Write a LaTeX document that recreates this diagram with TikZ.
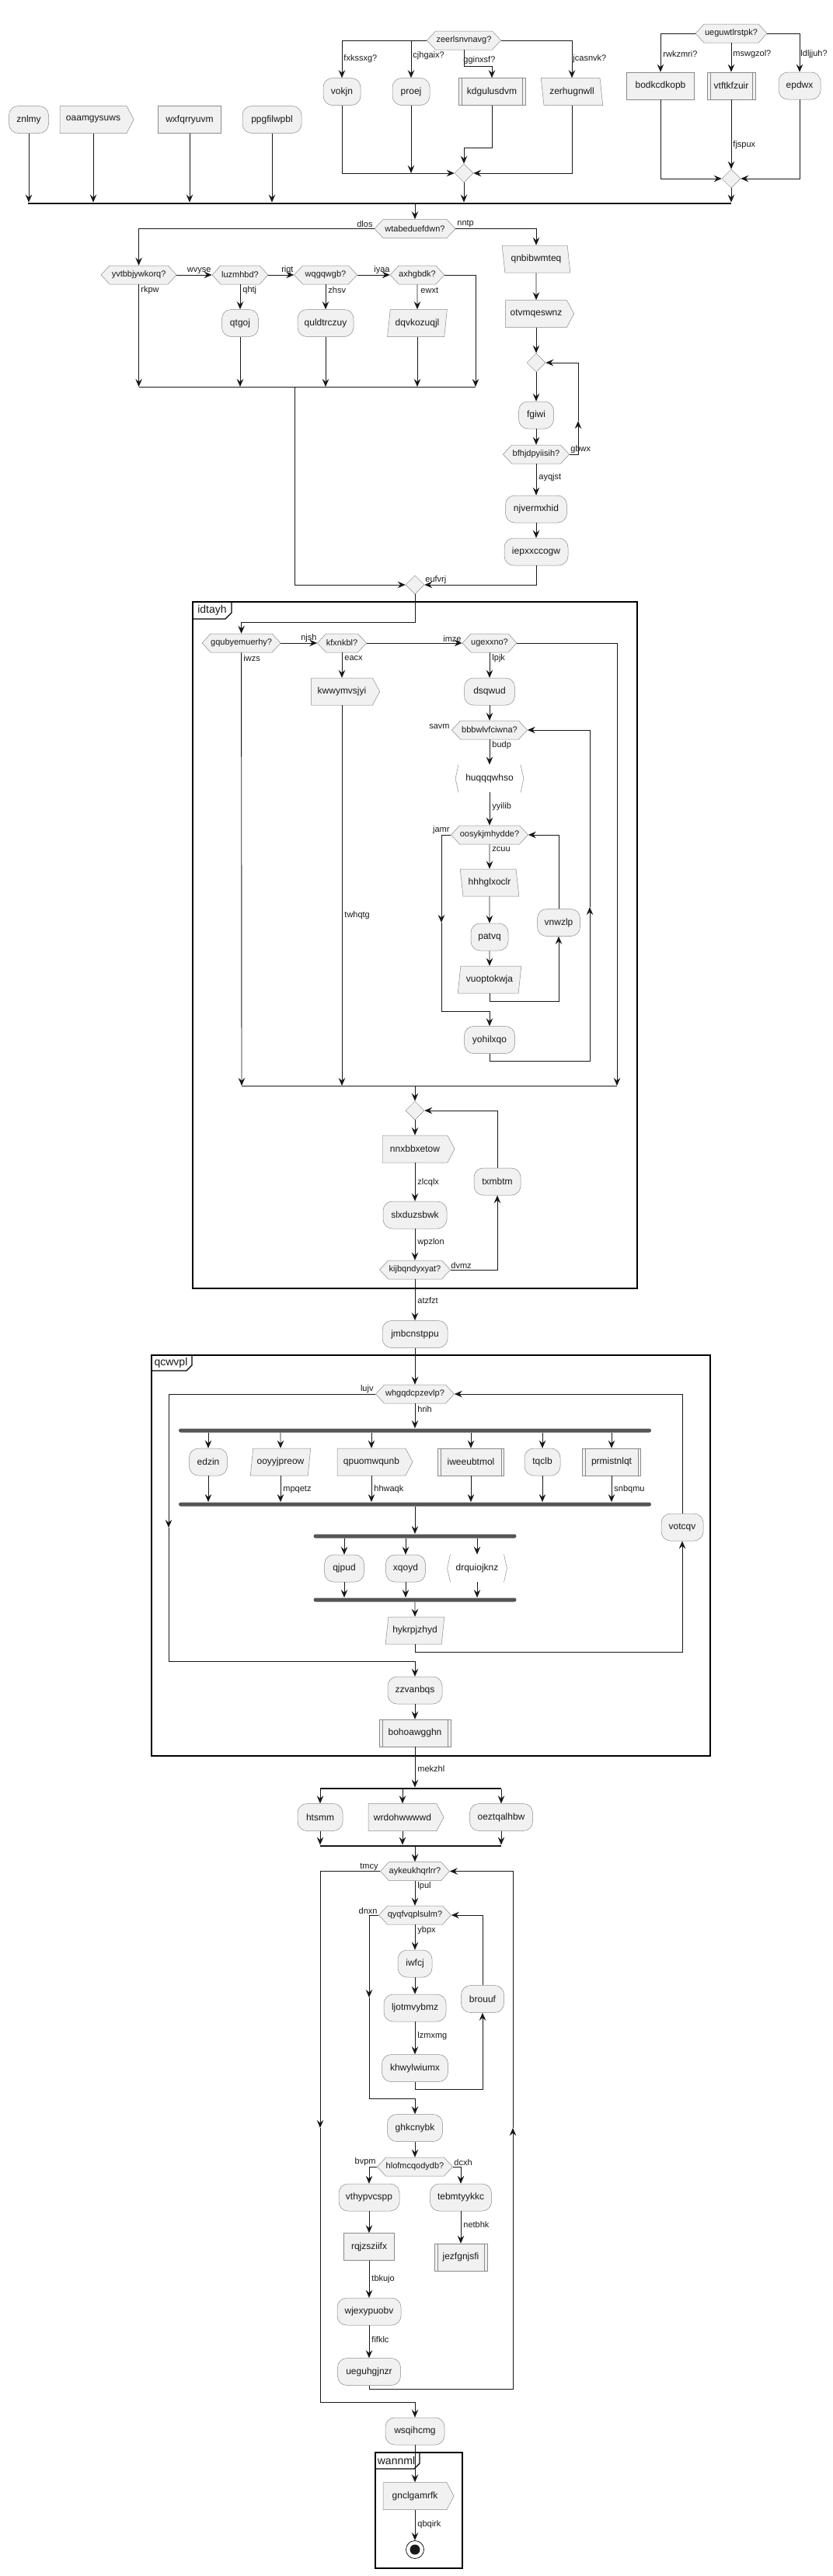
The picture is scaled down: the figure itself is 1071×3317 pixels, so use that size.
\documentclass[tikz,border=0pt]{standalone}
\usepackage{fontspec}
\setmainfont{Liberation Sans}
\usetikzlibrary{shapes, arrows.meta}
\definecolor{boxfill}{HTML}{F1F1F1}
\definecolor{boxline}{HTML}{8A8A8A}
\definecolor{flowline}{HTML}{181818}
\definecolor{barfill}{HTML}{555555}

\tikzset{
  act/.style={draw=boxline, line width=0.5pt, fill=boxfill, rounded corners=12pt, minimum height=35pt, inner sep=0pt, font=\fontsize{12}{14}\selectfont},
  boxnode/.style={act, sharp corners},
  sideline/.style={draw=boxline, line width=0.5pt},
  subnode/.style={boxnode, append after command={([xshift=4pt]\tikzlastnode.north west) edge[sideline] ([xshift=4pt]\tikzlastnode.south west) ([xshift=-4pt]\tikzlastnode.north east) edge[sideline] ([xshift=-4pt]\tikzlastnode.south east)}},
  parafwd/.style={boxnode, trapezium, trapezium left angle=75, trapezium right angle=105, trapezium stretches=true},
  paraback/.style={boxnode, trapezium, trapezium left angle=105, trapezium right angle=75, trapezium stretches=true},
  sendnode/.style={boxnode, signal, signal to=east, signal pointer angle=124},
  recvnode/.style={boxnode, signal, signal from=east, signal pointer angle=124},
  hexnode/.style={boxnode, signal, signal to=east and west, signal pointer angle=95, minimum height=24pt, font=\fontsize{11}{13}\selectfont},
  brnode/.style={rectangle, minimum height=35pt, inner sep=0pt, font=\fontsize{12}{14}\selectfont,
    append after command={([xshift=4pt]\tikzlastnode.north west) edge[sideline] (\tikzlastnode.west)
      (\tikzlastnode.west) edge[sideline] ([xshift=4pt]\tikzlastnode.south west)
      ([xshift=-4pt]\tikzlastnode.north east) edge[sideline] (\tikzlastnode.east)
      (\tikzlastnode.east) edge[sideline] ([xshift=-4pt]\tikzlastnode.south east)}},
  mergenode/.style={diamond, draw=boxline, line width=0.5pt, fill=boxfill, minimum width=24pt, minimum height=24pt, inner sep=0pt},
  forkbar/.style={rectangle, fill=barfill, rounded corners=2.5pt, minimum height=5pt, inner sep=0pt},
  splitbar/.style={rectangle, fill=flowline, minimum height=2pt, inner sep=0pt},
  endnode/.style={circle, draw=flowline, line width=0.8pt, minimum size=23pt, inner sep=0pt, path picture={\fill[flowline] (path picture bounding box.center) circle (6.5pt);}},
  lbl/.style={font=\fontsize{11}{13}\selectfont, inner sep=1pt},
  tabtext/.style={font=\fontsize{14}{16}\selectfont, inner sep=0pt},
  frame/.style={draw=black, line width=1.3pt}
}

\begin{document}
\begin{tikzpicture}[x=1pt, y=-1pt, color=flowline, line width=0.9pt, >={Stealth[length=10pt, width=8.5pt, inset=3.5pt]}]
\useasboundingbox (0,0) rectangle (1071,3317);

%Frames
\draw[frame] (248,775) rectangle (820,1659);
\draw[frame] (248,797) -- (290,797) -- (298,789) -- (298,775);
\node (idtayh) [tabtext] at (273,786) {idtayh};
\draw[frame] (195,1745) rectangle (914,2261);
\draw[frame] (195,1765) -- (240,1765) -- (247,1758) -- (247,1745);
\node (qcwvpl) [tabtext] at (220,1755) {qcwvpl};
\draw[frame] (483,3158) rectangle (595,3307);
\draw[frame] (483,3179) -- (533,3179) -- (540,3172) -- (540,3158);
\node (wannml) [tabtext] at (510,3168) {wannml};

%Top split
\node (znlmy) [act, minimum width=51pt] at (37,154) {znlmy};
\node (oaamgysuws) [sendnode, minimum width=95pt] at (120,154) {oaamgysuws};
\node (wxfqrryuvm) [boxnode, minimum width=81pt] at (244,154) {wxfqrryuvm};
\node (ppgfilwpbl) [act, minimum width=76pt] at (350,154) {ppgfilwpbl};

\node (zeerlsnvnavg) [hexnode, minimum width=95pt] at (597,52) {zeerlsnvnavg?};
\node (vokjn) [act, minimum width=48pt] at (440,118) {vokjn};
\node (proej) [act, minimum width=48pt] at (529,118) {proej};
\node (kdgulusdvm) [subnode, minimum width=86pt] at (633,118) {kdgulusdvm};
\node (zerhugnwll) [paraback, minimum width=80pt] at (736,118) {zerhugnwll};
\node (mrg1) [mergenode] at (597,223) {};

\node (ueguwtlrstpk) [hexnode, minimum width=92pt] at (941,43) {ueguwtlrstpk?};
\node (bodkcdkopb) [boxnode, minimum width=87pt] at (850,110.5) {bodkcdkopb};
\node (vtftkfzuir) [subnode, minimum width=62pt] at (941,110.5) {vtftkfzuir};
\node (epdwx) [act, minimum width=54pt] at (1029,110.5) {epdwx};
\node (mrg2) [mergenode] at (941,230) {};

\node (splt1) [splitbar, minimum width=905pt] at (488.5,262) {};

\draw[->] (zeerlsnvnavg.west) -| (vokjn.north);
\draw[->] (proej.north |- zeerlsnvnavg.west) -- (proej.north);
\draw[->] (zeerlsnvnavg.south) -- ++(0,21) -| (kdgulusdvm.north);
\draw[->] (zeerlsnvnavg.east) -| (zerhugnwll.north);
\draw[->] (vokjn.south) |- (mrg1.west);
\draw[->] (proej.south) -- (proej.south |- mrg1.west);
\draw[->] (kdgulusdvm.south) -- ++(0,55) -| (mrg1.north);
\draw[->] (zerhugnwll.south) |- (mrg1.east);
\draw[->] (mrg1.south) -- (mrg1.south |- splt1.north);

\draw[->] (ueguwtlrstpk.west) -| (bodkcdkopb.north);
\draw[->] (ueguwtlrstpk.south) -- (vtftkfzuir.north);
\draw[->] (ueguwtlrstpk.east) -| (epdwx.north);
\draw[->] (bodkcdkopb.south) |- (mrg2.west);
\draw[->] (vtftkfzuir.south) -- (mrg2.north);
\draw[->] (epdwx.south) |- (mrg2.east);
\draw[->] (mrg2.south) -- (mrg2.south |- splt1.north);

\draw[->] (znlmy.south) -- (znlmy.south |- splt1.north);
\draw[->] (oaamgysuws.south) -- (oaamgysuws.south |- splt1.north);
\draw[->] (wxfqrryuvm.south) -- (wxfqrryuvm.south |- splt1.north);
\draw[->] (ppgfilwpbl.south) -- (ppgfilwpbl.south |- splt1.north);

\node (lfxkssxg) [lbl, anchor=west] at (441,76) {fxkssxg?};
\node (lcjhgaix) [lbl, anchor=west] at (530,72) {cjhgaix?};
\node (lgginxsf) [lbl, anchor=west] at (595,78) {gginxsf?};
\node (ljcasnvk) [lbl, anchor=west] at (736,76) {jcasnvk?};
\node (lrwkzmri) [lbl, anchor=west] at (852,70) {rwkzmri?};
\node (lmswgzol) [lbl, anchor=west] at (942,70) {mswgzol?};
\node (lldljjuh) [lbl, anchor=west] at (1029,70) {ldljjuh?};
\node (lfjspux) [lbl, anchor=west] at (942,187) {fjspux};

%Second decision
\node (wtabeduefdwn) [hexnode, minimum width=104pt] at (534,294.5) {wtabeduefdwn?};
\node (yvtbbjywkorq) [hexnode, minimum width=97pt] at (178.6,354) {yvtbbjywkorq?};
\node (luzmhbd) [hexnode, minimum width=72pt] at (309,354) {luzmhbd?};
\node (wqgqwgb) [hexnode, minimum width=81pt] at (419,354) {wqgqwgb?};
\node (axhgbdk) [hexnode, minimum width=69pt] at (537,354) {axhgbdk?};
\node (qtgoj) [act, minimum width=47pt] at (309,416) {qtgoj};
\node (quldtrczuy) [act, minimum width=72pt] at (419,416) {quldtrczuy};
\node (dqvkozuqjl) [parafwd, minimum width=77pt] at (537,416) {dqvkozuqjl};
\coordinate (mg1l) at (178.6,498);
\coordinate (mg1r) at (612,498);
\coordinate (mg1m) at (379,498);

\node (qnbibwmteq) [paraback, minimum width=88pt] at (690,333.5) {qnbibwmteq};
\node (otvmqeswnz) [sendnode, minimum width=88pt] at (690,404) {otvmqeswnz};
\node (mrg4) [mergenode] at (690,467) {};
\node (fgiwi) [act, minimum width=45pt] at (690,534.5) {fgiwi};
\node (bfhjdpyiisih) [hexnode, minimum width=85pt] at (690,585) {bfhjdpyiisih?};
\node (njvermxhid) [act, minimum width=79pt] at (690,655.5) {njvermxhid};
\node (iepxxccogw) [act, minimum width=82pt] at (690,710.5) {iepxxccogw};
\coordinate (bk1) at (744,542);
\node (mrg3) [mergenode] at (534,753) {};

\draw[->] (splt1.south -| wtabeduefdwn) -- (wtabeduefdwn.north);
\draw[->] (wtabeduefdwn.west) -| (yvtbbjywkorq.north);
\draw[->] (wtabeduefdwn.east) -| (qnbibwmteq.north);
\draw[->] (yvtbbjywkorq.east) -- (luzmhbd.west);
\draw[->] (luzmhbd.east) -- (wqgqwgb.west);
\draw[->] (wqgqwgb.east) -- (axhgbdk.west);
\draw[->] (axhgbdk.east) -| (mg1r);
\draw[->] (yvtbbjywkorq.south) -- (mg1l);
\draw[->] (luzmhbd.south) -- (qtgoj.north);
\draw[->] (wqgqwgb.south) -- (quldtrczuy.north);
\draw[->] (axhgbdk.south) -- (dqvkozuqjl.north);
\draw[->] (qtgoj.south) -- (qtgoj.south |- mg1l);
\draw[->] (quldtrczuy.south) -- (quldtrczuy.south |- mg1l);
\draw[->] (dqvkozuqjl.south) -- (dqvkozuqjl.south |- mg1l);
\draw (mg1l) -- (mg1r);
\draw[->] (mg1m) |- (mrg3.west);

\draw[->] (qnbibwmteq.south) -- (otvmqeswnz.north);
\draw[->] (otvmqeswnz.south) -- (mrg4.north);
\draw[->] (mrg4.south) -- (fgiwi.north);
\draw[->] (fgiwi.south) -- (bfhjdpyiisih.north);
\draw[->] (bfhjdpyiisih.east) -| (bk1);
\draw[->] (bk1) |- (mrg4.east);
\draw[->] (bfhjdpyiisih.south) -- (njvermxhid.north);
\draw[->] (njvermxhid.south) -- (iepxxccogw.north);
\draw[->] (iepxxccogw.south) |- (mrg3.east);

\node (ldlos) [lbl, anchor=south east] at (481,294) {dlos};
\node (lnntp) [lbl, anchor=south west] at (587,294) {nntp};
\node (lwvyse) [lbl, anchor=south east] at (273,354) {wvyse};
\node (lriqt) [lbl, anchor=south east] at (379,354) {riqt};
\node (liyaa) [lbl, anchor=south east] at (503,354) {iyaa};
\node (lrkpw) [lbl, anchor=west] at (180,374) {rkpw};
\node (lqhtj) [lbl, anchor=west] at (311,374) {qhtj};
\node (lzhsv) [lbl, anchor=west] at (421,374) {zhsv};
\node (lewxt) [lbl, anchor=west] at (540,374) {ewxt};
\node (lgbwx) [lbl, anchor=south west] at (733,585) {gbwx};
\node (layqjst) [lbl, anchor=west] at (692,615) {ayqjst};
\node (leufvrj) [lbl, anchor=south west] at (546,753) {eufvrj};

%idtayh
\node (gqubyemuerhy) [hexnode, minimum width=101pt] at (310.6,828) {gqubyemuerhy?};
\node (kfxnkbl) [hexnode, minimum width=63pt] at (440,828) {kfxnkbl?};
\node (ugexxno) [hexnode, minimum width=70pt] at (630,828) {ugexxno?};
\node (kwwymvsjyi) [recvnode, minimum width=88pt] at (440,890.5) {kwwymvsjyi};
\node (dsqwud) [act, minimum width=65pt] at (630,890.5) {dsqwud};
\node (bbbwlvfciwna) [hexnode, minimum width=97pt] at (630,940) {bbbwlvfciwna?};
\node (huqqqwhso) [brnode, minimum width=87pt] at (630,1002.5) {huqqqwhso};
\node (oosykjmhydde) [hexnode, minimum width=99pt] at (630,1075) {oosykjmhydde?};
\node (hhhglxoclr) [paraback, minimum width=76pt] at (630,1136.5) {hhhglxoclr};
\node (patvq) [act, minimum width=48pt] at (630,1206.5) {patvq};
\node (vuoptokwja) [parafwd, minimum width=82pt] at (630,1261.5) {vuoptokwja};
\node (vnwzlp) [act, minimum width=55pt] at (719,1188) {vnwzlp};
\node (yohilxqo) [act, minimum width=65pt] at (630,1339) {yohilxqo};
\coordinate (mg2l) at (311,1398);
\coordinate (mg2r) at (794,1398);
\coordinate (mg2m) at (534,1398);
\coordinate (bk2) at (568,1188);
\coordinate (bk3) at (759,1168);

\node (mrg5) [mergenode] at (534,1430) {};
\node (nnxbbxetow) [recvnode, minimum width=93pt] at (534,1479.5) {nnxbbxetow};
\node (slxduzsbwk) [act, minimum width=82pt] at (534,1564.5) {slxduzsbwk};
\node (kijbqndyxyat) [hexnode, minimum width=91pt] at (534,1635) {kijbqndyxyat?};
\node (txmbtm) [act, minimum width=60pt] at (640,1521.5) {txmbtm};
\node (jmbcnstppu) [act, minimum width=84pt] at (534,1718) {jmbcnstppu};

\draw[->] (mrg3.south) -- ++(0,36) -| (gqubyemuerhy.north);
\draw[->] (gqubyemuerhy.east) -- (kfxnkbl.west);
\draw[->] (kfxnkbl.east) -- (ugexxno.west);
\draw[->] (ugexxno.east) -| (mg2r);
\draw[->] (gqubyemuerhy.south) -- (mg2l);
\draw[->] (kfxnkbl.south) -- (kwwymvsjyi.north);
\draw[->] (kwwymvsjyi.south) -- (kwwymvsjyi.south |- mg2l);
\draw[->] (ugexxno.south) -- (dsqwud.north);
\draw[->] (dsqwud.south) -- (bbbwlvfciwna.north);
\draw[->] (bbbwlvfciwna.south) -- (huqqqwhso.north);
\draw[->] (huqqqwhso.south) -- (oosykjmhydde.north);
\draw[->] (oosykjmhydde.south) -- (hhhglxoclr.north);
\draw[->] (hhhglxoclr.south) -- (patvq.north);
\draw[->] (patvq.south) -- (vuoptokwja.north);
\draw[->] (vuoptokwja.south) -- ++(0,10) -| (vnwzlp.south);
\draw[->] (vnwzlp.north) |- (oosykjmhydde.east);
\draw[->] (oosykjmhydde.west) -| (bk2);
\draw[->] (bk2) -- ++(0,114) -| (yohilxqo.north);
\draw[->] (yohilxqo.south) -- ++(0,10) -| (bk3);
\draw[->] (bk3) |- (bbbwlvfciwna.east);
\draw (mg2l) -- (mg2r);
\draw[->] (mg2m) -- (mrg5.north);

\draw[->] (mrg5.south) -- (nnxbbxetow.north);
\draw[->] (nnxbbxetow.south) -- (slxduzsbwk.north);
\draw[->] (slxduzsbwk.south) -- (kijbqndyxyat.north);
\draw[->] (kijbqndyxyat.east) -| (txmbtm.south);
\draw[->] (txmbtm.north) |- (mrg5.east);
\draw[->] (kijbqndyxyat.south) -- (jmbcnstppu.north);

\node (lnjsh) [lbl, anchor=south east] at (409,828) {njsh};
\node (limze) [lbl, anchor=south east] at (595,828) {imze};
\node (liwzs) [lbl, anchor=west] at (312,848) {iwzs};
\node (leacx) [lbl, anchor=west] at (442,848) {eacx};
\node (llpjk) [lbl, anchor=west] at (632,848) {lpjk};
\node (lsavm) [lbl, anchor=south east] at (580,940) {savm};
\node (lbudp) [lbl, anchor=west] at (632,960) {budp};
\node (lyyilib) [lbl, anchor=west] at (632,1039) {yyilib};
\node (ljamr) [lbl, anchor=south east] at (580,1075) {jamr};
\node (lzcuu) [lbl, anchor=west] at (632,1094) {zcuu};
\node (ltwhqtg) [lbl, anchor=west] at (442,1179) {twhqtg};
\node (lzlcqlx) [lbl, anchor=west] at (536,1523) {zlcqlx};
\node (lwpzlon) [lbl, anchor=west] at (536,1600) {wpzlon};
\node (ldvmz) [lbl, anchor=south west] at (579,1635) {dvmz};
\node (latzfzt) [lbl, anchor=west] at (536,1675) {atzfzt};

%qcwvpl
\node (whgqdcpzevlp) [hexnode, minimum width=101pt] at (534,1795) {whgqdcpzevlp?};
\node (fork1) [forkbar, minimum width=608pt] at (534,1842) {};
\node (edzin) [act, minimum width=49pt] at (268,1882.5) {edzin};
\node (ooyyjpreow) [parafwd, minimum width=78pt] at (361,1882.5) {ooyyjpreow};
\node (qpuomwqunb) [sendnode, minimum width=97pt] at (478,1882.5) {qpuomwqunb};
\node (iweeubtmol) [subnode, minimum width=85pt] at (606,1882.5) {iweeubtmol};
\node (tqclb) [act, minimum width=46pt] at (698,1882.5) {tqclb};
\node (prmistnlqt) [subnode, minimum width=75pt] at (787,1882.5) {prmistnlqt};
\node (fork2) [forkbar, minimum width=608pt] at (534,1937) {};
\node (fork3) [forkbar, minimum width=261pt] at (534,1978) {};
\node (qjpud) [act, minimum width=51pt] at (443,2019.5) {qjpud};
\node (xqoyd) [act, minimum width=51pt] at (522,2019.5) {xqoyd};
\node (drquiojknz) [brnode, minimum width=76pt] at (614,2019.5) {drquiojknz};
\node (fork4) [forkbar, minimum width=261pt] at (534,2060) {};
\node (hykrpjzhyd) [parafwd, minimum width=76pt] at (534,2099.5) {hykrpjzhyd};
\node (votcqv) [act, minimum width=54pt] at (878,1966.5) {votcqv};
\node (zzvanbqs) [act, minimum width=70pt] at (534,2176.5) {zzvanbqs};
\node (bohoawgghn) [subnode, minimum width=92pt] at (534,2231.5) {bohoawgghn};
\coordinate (bk4) at (217,1967);

\draw[->] (jmbcnstppu.south) -- (whgqdcpzevlp.north);
\draw[->] (whgqdcpzevlp.south) -- (fork1.north);
\draw[->] (fork1.south -| edzin) -- (edzin.north);
\draw[->] (fork1.south -| ooyyjpreow) -- (ooyyjpreow.north);
\draw[->] (fork1.south -| qpuomwqunb) -- (qpuomwqunb.north);
\draw[->] (fork1.south -| iweeubtmol) -- (iweeubtmol.north);
\draw[->] (fork1.south -| tqclb) -- (tqclb.north);
\draw[->] (fork1.south -| prmistnlqt) -- (prmistnlqt.north);
\draw[->] (edzin.south) -- (edzin.south |- fork2.north);
\draw[->] (ooyyjpreow.south) -- (ooyyjpreow.south |- fork2.north);
\draw[->] (qpuomwqunb.south) -- (qpuomwqunb.south |- fork2.north);
\draw[->] (iweeubtmol.south) -- (iweeubtmol.south |- fork2.north);
\draw[->] (tqclb.south) -- (tqclb.south |- fork2.north);
\draw[->] (prmistnlqt.south) -- (prmistnlqt.south |- fork2.north);
\draw[->] (fork2.south) -- (fork3.north);
\draw[->] (fork3.south -| qjpud) -- (qjpud.north);
\draw[->] (fork3.south -| xqoyd) -- (xqoyd.north);
\draw[->] (fork3.south -| drquiojknz) -- (drquiojknz.north);
\draw[->] (qjpud.south) -- (qjpud.south |- fork4.north);
\draw[->] (xqoyd.south) -- (xqoyd.south |- fork4.north);
\draw[->] (drquiojknz.south) -- (drquiojknz.south |- fork4.north);
\draw[->] (fork4.south) -- (hykrpjzhyd.north);
\draw[->] (hykrpjzhyd.south) -- ++(0,10) -| (votcqv.south);
\draw[->] (votcqv.north) |- (whgqdcpzevlp.east);
\draw[->] (whgqdcpzevlp.west) -| (bk4);
\draw[->] (bk4) -- ++(0,172) -| (zzvanbqs.north);
\draw[->] (zzvanbqs.south) -- (bohoawgghn.north);

\node (llujv) [lbl, anchor=south east] at (482,1795) {lujv};
\node (lhrih) [lbl, anchor=west] at (536,1814) {hrih};
\node (lmpqetz) [lbl, anchor=west] at (363,1918) {mpqetz};
\node (lhhwaqk) [lbl, anchor=west] at (480,1918) {hhwaqk};
\node (lsnbqmu) [lbl, anchor=west] at (789,1918) {snbqmu};

%Bottom
\node (split2) [splitbar, minimum width=233pt] at (528.5,2303) {};
\node (htsmm) [act, minimum width=58pt] at (412,2340) {htsmm};
\node (wrdohwwwwd) [sendnode, minimum width=97pt] at (518,2340) {wrdohwwwwd};
\node (oeztqalhbw) [act, minimum width=81pt] at (645,2340) {oeztqalhbw};
\node (split3) [splitbar, minimum width=233pt] at (528.5,2377) {};

\node (aykeukhqrlrr) [hexnode, minimum width=89pt] at (534,2409.5) {aykeukhqrlrr?};
\node (qyqfvqplsulm) [hexnode, minimum width=93pt] at (534,2466) {qyqfvqplsulm?};
\node (iwfcj) [act, minimum width=44pt] at (534,2528.5) {iwfcj};
\node (ljotmvybmz) [act, minimum width=80pt] at (534,2585.5) {ljotmvybmz};
\node (khwylwiumx) [act, minimum width=85pt] at (534,2663) {khwylwiumx};
\node (brouuf) [act, minimum width=55pt] at (621,2574) {brouuf};
\node (ghkcnybk) [act, minimum width=71pt] at (534,2740) {ghkcnybk};
\node (hlofmcqodydb) [hexnode, minimum width=97pt] at (534,2790) {hlofmcqodydb?};
\node (vthypvcspp) [act, minimum width=78pt] at (475,2829.5) {vthypvcspp};
\node (tebmtyykkc) [act, minimum width=79pt] at (593,2829.5) {tebmtyykkc};
\node (rqjzsziifx) [boxnode, minimum width=65pt] at (475,2893) {rqjzsziifx};
\node (jezfgnjsfi) [subnode, minimum width=68pt] at (593,2906.5) {jezfgnjsfi};
\node (wjexypuobv) [act, minimum width=82pt] at (475,2976.5) {wjexypuobv};
\node (ueguhgjnzr) [act, minimum width=81pt] at (475,3054) {ueguhgjnzr};
\node (wsqihcmg) [act, minimum width=76pt] at (534,3130.5) {wsqihcmg};
\node (gnclgamrfk) [recvnode, minimum width=91pt] at (534,3214) {gnclgamrfk};
\node (endc) [endnode] at (534,3283) {};
\coordinate (bk5) at (412,2740);
\coordinate (bk6) at (475,2572);
\coordinate (bk7) at (660,2740);

\draw[->] (bohoawgghn.south) -- (bohoawgghn.south |- split2.north);
\draw[->] (split2.south -| htsmm) -- (htsmm.north);
\draw[->] (split2.south -| wrdohwwwwd) -- (wrdohwwwwd.north);
\draw[->] (split2.south -| oeztqalhbw) -- (oeztqalhbw.north);
\draw[->] (htsmm.south) -- (htsmm.south |- split3.north);
\draw[->] (wrdohwwwwd.south) -- (wrdohwwwwd.south |- split3.north);
\draw[->] (oeztqalhbw.south) -- (oeztqalhbw.south |- split3.north);
\draw[->] (split3.south -| aykeukhqrlrr) -- (aykeukhqrlrr.north);

\draw[->] (aykeukhqrlrr.west) -| (bk5);
\draw[->] (bk5) -- ++(0,353) -| (wsqihcmg.north);
\draw[->] (aykeukhqrlrr.south) -- (qyqfvqplsulm.north);
\draw[->] (qyqfvqplsulm.west) -| (bk6);
\draw[->] (bk6) -- ++(0,130) -| (ghkcnybk.north);
\draw[->] (qyqfvqplsulm.south) -- (iwfcj.north);
\draw[->] (iwfcj.south) -- (ljotmvybmz.north);
\draw[->] (ljotmvybmz.south) -- (khwylwiumx.north);
\draw[->] (khwylwiumx.south) -- ++(0,10) -| (brouuf.south);
\draw[->] (brouuf.north) |- (qyqfvqplsulm.east);
\draw[->] (ghkcnybk.south) -- (hlofmcqodydb.north);
\draw[->] (hlofmcqodydb.west) -| (vthypvcspp.north);
\draw[->] (hlofmcqodydb.east) -| (tebmtyykkc.north);
\draw[->] (vthypvcspp.south) -- (rqjzsziifx.north);
\draw[->] (rqjzsziifx.south) -- (wjexypuobv.north);
\draw[->] (wjexypuobv.south) -- (ueguhgjnzr.north);
\draw[->] (tebmtyykkc.south) -- (jezfgnjsfi.north);
\draw[->] (ueguhgjnzr.south) -- ++(0,5) -| (bk7);
\draw[->] (bk7) |- (aykeukhqrlrr.east);
\draw[->] (wsqihcmg.south) -- (gnclgamrfk.north);
\draw[->] (gnclgamrfk.south) -- (endc.north);

\node (lmekzhl) [lbl, anchor=west] at (536,2278) {mekzhl};
\node (ltmcy) [lbl, anchor=south east] at (488,2410) {tmcy};
\node (llpul) [lbl, anchor=west] at (536,2429) {lpul};
\node (ldnxn) [lbl, anchor=south east] at (487,2466) {dnxn};
\node (lybpx) [lbl, anchor=west] at (536,2486) {ybpx};
\node (llzmxmg) [lbl, anchor=west] at (536,2622) {lzmxmg};
\node (lbvpm) [lbl, anchor=south east] at (485,2790) {bvpm};
\node (ldcxh) [lbl, anchor=south west] at (583,2790) {dcxh};
\node (lnetbhk) [lbl, anchor=west] at (595,2865) {netbhk};
\node (ltbkujo) [lbl, anchor=west] at (477,2935) {tbkujo};
\node (lfifklc) [lbl, anchor=west] at (477,3013) {fifklc};
\node (lqbqirk) [lbl, anchor=west] at (536,3251) {qbqirk};
\end{tikzpicture}
\end{document}
